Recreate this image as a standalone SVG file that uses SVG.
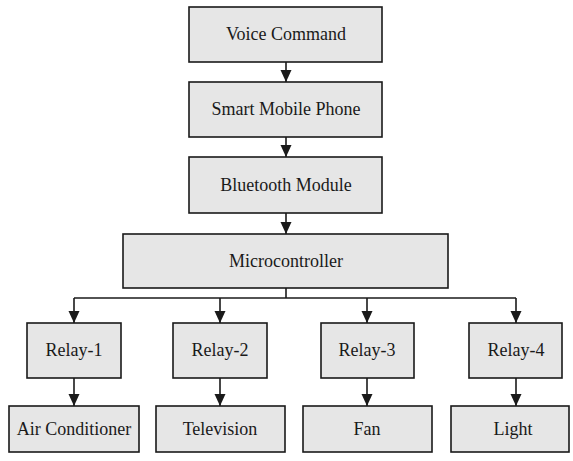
<svg xmlns="http://www.w3.org/2000/svg" width="573" height="461" viewBox="0 0 573 461">
<defs>
<style>
.box{fill:#e6e6e6;stroke:#1a1a1a;stroke-width:1.6}
.lbl{font-family:"Liberation Serif","Times New Roman",serif;font-size:18px;fill:#1a1a1a;text-anchor:middle}
.ln{stroke:#1a1a1a;stroke-width:1.6;fill:none}
</style>
<marker id="ah" markerUnits="userSpaceOnUse" markerWidth="14" markerHeight="14" viewBox="0 0 14 14" refX="12" refY="7" orient="auto">
<path d="M0,1.5 L12,7 L0,12.5 Z" fill="#1a1a1a"/>
</marker>
</defs>
<rect width="573" height="461" fill="#ffffff"/>
<g id="connectors">
<line class="ln" x1="286" y1="62" x2="286" y2="82" marker-end="url(#ah)"/>
<line class="ln" x1="286" y1="137" x2="286" y2="157" marker-end="url(#ah)"/>
<line class="ln" x1="286" y1="213" x2="286" y2="234" marker-end="url(#ah)"/>
<polyline class="ln" points="286,288 286,298"/>
<polyline class="ln" points="74,298 516,298"/>
<line class="ln" x1="74" y1="298" x2="74" y2="323" marker-end="url(#ah)"/>
<line class="ln" x1="220" y1="298" x2="220" y2="323" marker-end="url(#ah)"/>
<line class="ln" x1="367" y1="298" x2="367" y2="323" marker-end="url(#ah)"/>
<line class="ln" x1="516" y1="298" x2="516" y2="323" marker-end="url(#ah)"/>
<line class="ln" x1="74" y1="378" x2="74" y2="406" marker-end="url(#ah)"/>
<line class="ln" x1="220" y1="378" x2="220" y2="406" marker-end="url(#ah)"/>
<line class="ln" x1="367" y1="378" x2="367" y2="406" marker-end="url(#ah)"/>
<line class="ln" x1="516" y1="378" x2="516" y2="406" marker-end="url(#ah)"/>
</g>
<g id="voice"><rect class="box" x="189" y="7" width="193" height="55"/><text class="lbl" x="286" y="40">Voice Command</text></g>
<g id="phone"><rect class="box" x="189" y="82" width="193" height="55"/><text class="lbl" x="286" y="115">Smart Mobile Phone</text></g>
<g id="bt"><rect class="box" x="189" y="157" width="193" height="56"/><text class="lbl" x="286" y="191">Bluetooth Module</text></g>
<g id="mcu"><rect class="box" x="123" y="234" width="325" height="54"/><text class="lbl" x="286" y="267">Microcontroller</text></g>
<g id="relay1"><rect class="box" x="27" y="323" width="94" height="55"/><text class="lbl" x="74" y="356">Relay-1</text></g>
<g id="relay2"><rect class="box" x="173" y="323" width="94" height="55"/><text class="lbl" x="220" y="356">Relay-2</text></g>
<g id="relay3"><rect class="box" x="321" y="323" width="93" height="55"/><text class="lbl" x="367" y="356">Relay-3</text></g>
<g id="relay4"><rect class="box" x="469" y="323" width="93" height="55"/><text class="lbl" x="516" y="356">Relay-4</text></g>
<g id="ac"><rect class="box" x="9" y="406" width="130" height="46"/><text class="lbl" x="74" y="435">Air Conditioner</text></g>
<g id="tv"><rect class="box" x="156" y="406" width="129" height="46"/><text class="lbl" x="220" y="435">Television</text></g>
<g id="fan"><rect class="box" x="303" y="406" width="129" height="46"/><text class="lbl" x="367" y="435">Fan</text></g>
<g id="light"><rect class="box" x="451" y="406" width="118" height="46"/><text class="lbl" x="513" y="435">Light</text></g>
</svg>
